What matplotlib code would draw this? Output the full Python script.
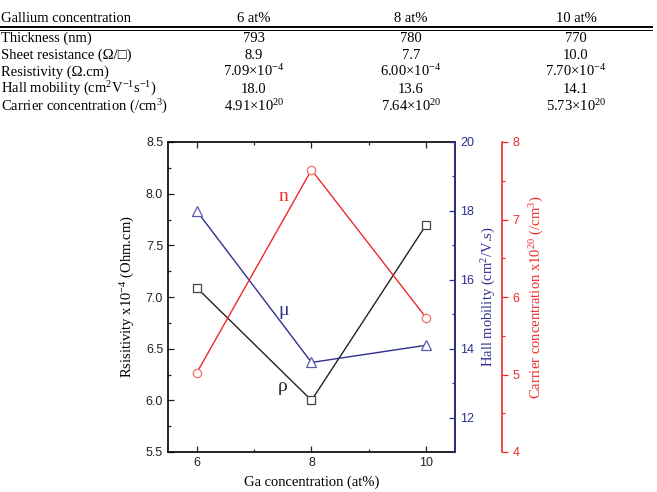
import matplotlib
matplotlib.use("Agg")
import matplotlib.pyplot as plt
from matplotlib.lines import Line2D
from matplotlib.ticker import MultipleLocator, FixedLocator

plt.rcParams['font.family'] = ['Liberation Sans', 'DejaVu Sans']
plt.rcParams['mathtext.fontset'] = 'custom'
plt.rcParams['mathtext.rm'] = 'Liberation Serif'
plt.rcParams['mathtext.it'] = 'Liberation Serif:italic'
plt.rcParams['mathtext.bf'] = 'Liberation Serif:bold'

# ---------------- data ----------------
ga = [6, 8, 10]
col_heads = ["6 at%", "8 at%", "10 at%"]
row_labels = ["Thickness (nm)", "Sheet resistance (\u03a9/\u25a1)", "Resistivity (\u03a9.cm)",
              "Hall mobility (cm$^{2}$V$^{-1}$s$^{-1}$)", "Carrier concentration (/cm$^{3}$)"]
thickness = ["793", "780", "770"]
sheet_res = ["8.9", "7.7", "10.0"]
resistivity_txt = ["7.09\u00d710$^{-4}$", "6.00\u00d710$^{-4}$", "7.70\u00d710$^{-4}$"]
mobility_txt = ["18.0", "13.6", "14.1"]
carrier_txt = ["4.91\u00d710$^{20}$", "7.64\u00d710$^{20}$", "5.73\u00d710$^{20}$"]

resistivity = [7.09, 6.00, 7.70]      # x10^-4 Ohm.cm
mobility = [18.0, 13.6, 14.1]         # cm2/V.s
carrier = [5.02, 7.64, 5.73]          # x10^20 /cm3 (as plotted)

BLUE = "#2f2f8f"
RED = "#ee2a2a"
BLACK = "#222222"
SERIF = ["Liberation Serif", "DejaVu Sans"]

fig = plt.figure(figsize=(6.57, 4.92), dpi=100)
W, H = 657.0, 492.0

# ---------------- table ----------------
fs_tab = 10.5
col_x = [254, 411, 576]
fig.text(1 / W, 1 - 22 / H, "Gallium concentration", family=SERIF, fontsize=fs_tab, va="baseline", ha="left")
for cx, h in zip(col_x, col_heads):
    fig.text(cx / W, 1 - 22 / H, h, family=SERIF, fontsize=fs_tab, va="baseline", ha="center")
fig.add_artist(Line2D([0, 652 / W], [1 - 27 / H] * 2, lw=1.4, color="k"))
fig.add_artist(Line2D([0, 652 / W], [1 - 29.5 / H] * 2, lw=0.7, color="k"))

rows = [thickness, sheet_res, resistivity_txt, mobility_txt, carrier_txt]
row_y = [42, 59, 76, 93, 111]
for lab, vals, y in zip(row_labels, rows, row_y):
    fig.text(1 / W, 1 - y / H, lab, family=SERIF, fontsize=fs_tab, va="baseline", ha="left")
    for cx, v in zip(col_x, vals):
        fig.text(cx / W, 1 - y / H, v, family=SERIF, fontsize=fs_tab, va="baseline", ha="center")

# ---------------- chart ----------------
ax = fig.add_axes([168 / W, 1 - 452 / H, (455 - 168) / W, (452 - 142) / H])
ax2 = ax.twinx()
ax3 = ax.twinx()
ax3.spines["right"].set_position(("axes", (502 - 168) / (455 - 168)))

ms = 6
ax.plot(ga, resistivity, color=BLACK, lw=1.0, marker="s", ms=ms, mfc="white", mec="#444444", mew=0.9, zorder=3)
ax2.plot(ga, mobility, color=BLUE, lw=1.0, marker="^", ms=ms + 1, mfc="white", mec="#5a5ab0", mew=0.9, zorder=3)
ax3.plot(ga, carrier, color=RED, lw=1.0, marker="o", ms=ms, mfc="white", mec="#f07070", mew=0.9, zorder=3)

ax.set_xlim(5.5, 10.5)
ax.set_ylim(5.5, 8.5)
ax2.set_ylim(11, 20)
ax3.set_ylim(4, 8)

ax.xaxis.set_major_locator(FixedLocator(ga))
ax.xaxis.set_minor_locator(MultipleLocator(1))
ax.yaxis.set_major_locator(MultipleLocator(0.5))
ax.yaxis.set_minor_locator(MultipleLocator(0.25))
ax2.yaxis.set_major_locator(MultipleLocator(2))
ax2.yaxis.set_minor_locator(MultipleLocator(1))
ax3.yaxis.set_major_locator(MultipleLocator(1))
ax3.yaxis.set_minor_locator(MultipleLocator(0.5))

ax.tick_params(axis="both", which="both", direction="in", top=True, right=False,
               labelsize=9, colors=BLACK)
ax.tick_params(which="major", length=4, width=0.9)
ax.tick_params(which="minor", length=2.5, width=0.9)

ax2.tick_params(axis="y", which="both", direction="in", colors=BLUE, labelsize=9, width=0.9)
ax2.tick_params(which="major", length=4)
ax2.tick_params(which="minor", length=2.5)
ax2.spines["right"].set_color(BLUE)
ax2.spines["right"].set_linewidth(1.2)

ax3.tick_params(axis="y", which="both", direction="out", colors=RED, labelsize=9, width=0.9)
ax3.tick_params(which="major", length=4)
ax3.tick_params(which="minor", length=2.5)
ax3.spines["right"].set_color(RED)
ax3.spines["right"].set_linewidth(1.2)
for s in ["left", "top", "bottom"]:
    ax3.spines[s].set_visible(False)
    ax2.spines[s].set_visible(False)

for s in ["left", "top", "bottom", "right"]:
    ax.spines[s].set_linewidth(1.2)

ax.set_xlabel("Ga concentration (at%)", family=SERIF, fontsize=10.5, labelpad=5)
ax.set_ylabel("Rsisitivity x10$^{-4}$ (Ohm.cm)", family=SERIF, fontsize=10.5, labelpad=6)
ax2.set_ylabel("Hall mobility (cm$^{2}$/V.s)", family=SERIF, fontsize=10.5, color=BLUE, labelpad=4)
ax3.set_ylabel("Carrier concentration x10$^{20}$ (/cm$^{3}$)", family=SERIF, fontsize=10.5, color=RED, labelpad=6)

ax.text(7.52, 7.97, "n", family=SERIF, fontsize=14, color=RED, ha="center", va="center")
ax.text(7.52, 6.87, "\u03bc", family=SERIF, fontsize=14, color=BLUE, ha="center", va="center")
ax.text(7.5, 6.13, "\u03c1", family=SERIF, fontsize=14, color=BLACK, ha="center", va="center")

fig.savefig("out.png", dpi=100)
